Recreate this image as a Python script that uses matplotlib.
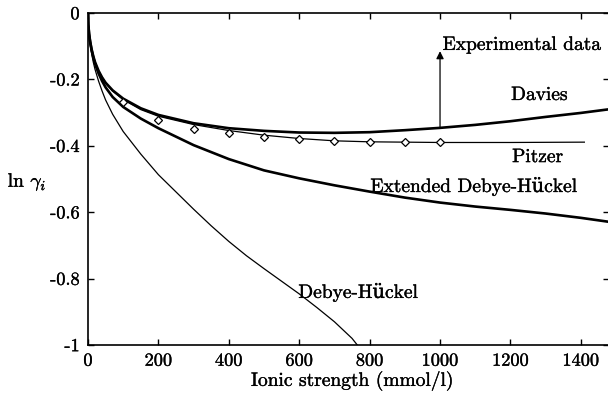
import numpy as np
import matplotlib
matplotlib.use("Agg")
import matplotlib.pyplot as plt
import matplotlib.patheffects as pe

# values (ionic strength in mmol/l, ln gamma)
davies_I = [0, 1, 3, 6, 10, 15, 20, 30, 40, 50, 70, 100, 150, 200, 300, 400,
            500, 600, 700, 800, 900, 1000, 1100, 1200, 1300, 1400, 1480]
davies_y = [0, -0.036, -0.062, -0.085, -0.108, -0.13, -0.148, -0.174, -0.194,
            -0.21, -0.233, -0.258, -0.287, -0.307, -0.332, -0.347, -0.355,
            -0.36, -0.361, -0.359, -0.353, -0.346, -0.337, -0.326, -0.313,
            -0.301, -0.29]

ext_dh_I = [0, 1, 3, 6, 10, 15, 20, 30, 40, 50, 70, 100, 150, 200, 300, 400,
            500, 600, 700, 800, 900, 1000, 1100, 1200, 1300, 1400, 1480]
ext_dh_y = [0, -0.036, -0.063, -0.087, -0.111, -0.134, -0.153, -0.182,
            -0.205, -0.224, -0.253, -0.283, -0.318, -0.347, -0.398, -0.44,
            -0.474, -0.498, -0.519, -0.538, -0.556, -0.571, -0.583, -0.593,
            -0.604, -0.617, -0.629]

pitzer_I = [0, 1, 3, 6, 10, 15, 20, 30, 50, 70, 100, 150, 200, 300, 400, 500,
            600, 700, 800, 1000, 1200, 1410]
pitzer_y = [0, -0.036, -0.062, -0.085, -0.108, -0.13, -0.148, -0.175, -0.211,
            -0.235, -0.261, -0.291, -0.311, -0.336, -0.354, -0.368, -0.378,
            -0.385, -0.388, -0.39, -0.39, -0.389]

dh_I = [0, 1, 3, 6, 10, 15, 20, 30, 40, 50, 70, 100, 150, 200, 250, 300, 350,
        400, 450, 500, 550, 600, 650, 700, 750, 765]
dh_y = [0, -0.038, -0.066, -0.093, -0.12, -0.148, -0.17, -0.205, -0.235,
        -0.262, -0.305, -0.357, -0.425, -0.487, -0.539, -0.591, -0.641,
        -0.688, -0.731, -0.77, -0.808, -0.846, -0.887, -0.93, -0.98, -1.0]

exp_I = [100, 200, 300, 400, 500, 600, 700, 800, 900, 1000]
exp_y = [-0.268, -0.322, -0.349, -0.361, -0.373, -0.38, -0.386, -0.389,
         -0.389, -0.389]

xticks = [0, 200, 400, 600, 800, 1000, 1200, 1400]
yticks = [0, -0.2, -0.4, -0.6, -0.8, -1]
yticklabels = ["0", "-0.2", "-0.4", "-0.6", "-0.8", "-1"]

plt.rcParams['font.family'] = ['cmr10', 'DejaVu Serif']
plt.rcParams['mathtext.fontset'] = 'cm'
plt.rcParams['axes.unicode_minus'] = False

fig = plt.figure(figsize=(6.08, 3.96), dpi=100)
ax = fig.add_axes([88/608, 1-345/396, 521/608, 332/396])

ax.plot(davies_I, davies_y, color='black', lw=1.9)
ax.plot(ext_dh_I, ext_dh_y, color='black', lw=1.9)
ax.plot(pitzer_I, pitzer_y, color='black', lw=0.9)
ax.plot(dh_I, dh_y, color='black', lw=0.9)
ax.plot(exp_I, exp_y, linestyle='none', marker='D', ms=4.3, mfc='white',
        mec='black', mew=0.9, zorder=5)

ax.annotate('', xy=(1000, -0.115), xytext=(1000, -0.346),
            arrowprops=dict(arrowstyle='-|>', lw=0.9, color='black',
                            mutation_scale=11, shrinkA=0, shrinkB=0))

fs = 14
tfs = 13.2
bold = [pe.withStroke(linewidth=0.25, foreground='black')]
ax.text(1232, -0.096, "Experimental data", fontsize=fs, ha='center', va='center', path_effects=bold)
ax.text(1282, -0.247, "Davies", fontsize=fs, ha='center', va='center', path_effects=bold)
ax.text(1277, -0.434, "Pitzer", fontsize=fs, ha='center', va='center', path_effects=bold)
ax.text(1095, -0.524, "Extended Debye-Hückel", fontsize=fs, ha='center', va='center', path_effects=bold)
ax.text(767, -0.843, "Debye-Hückel", fontsize=fs, ha='center', va='center', path_effects=bold)

ax.set_xlim(0, 1480)
ax.set_ylim(-1, 0)
ax.set_xticks(xticks)
ax.set_xticklabels([str(t) for t in xticks])
ax.set_yticks(yticks)
ax.set_yticklabels(yticklabels)
ax.tick_params(direction='in', length=4, width=1.0, top=True, right=True,
               labelsize=tfs, pad=6)
for lab in ax.get_xticklabels() + ax.get_yticklabels():
    lab.set_path_effects(bold)
for s in ax.spines.values():
    s.set_linewidth(1.2)

ax.set_xlabel("Ionic strength (mmol/l)", fontsize=fs, va='center', path_effects=bold)
ax.xaxis.set_label_coords(0.507, -0.108)
ax.set_ylabel(r"ln $\gamma_i$", fontsize=fs, rotation=0, va='center', path_effects=bold)
ax.yaxis.set_label_coords(-0.117, 0.49)

fig.savefig("out.png", dpi=100)
